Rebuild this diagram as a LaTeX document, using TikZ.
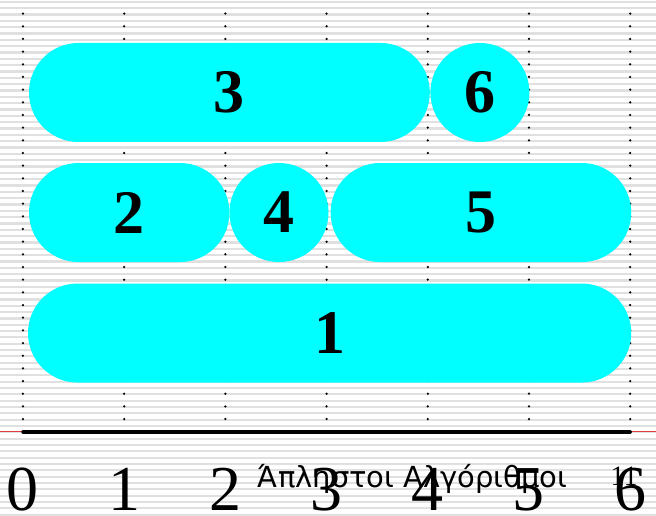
\documentclass[tikz,border=0pt]{standalone}
\usepackage{fontspec}
\setmainfont{Liberation Serif}
\newfontfamily\greekfont{DejaVu Sans}
\usetikzlibrary{shapes.misc}
\definecolor{jobcyan}{RGB}{0,255,255}
\definecolor{stripegray}{RGB}{224,224,224}
\definecolor{axisred}{RGB}{225,60,60}
\tikzset{
  job/.style={rounded rectangle, fill=jobcyan, inner sep=0pt, minimum height=99pt,
    font=\fontsize{62}{62}\selectfont\bfseries},
  jobdot/.style={circle, fill=jobcyan, inner sep=0pt, minimum size=99pt,
    font=\fontsize{62}{62}\selectfont\bfseries},
  tick/.style={anchor=base, inner sep=0pt, font=\fontsize{64}{64}\selectfont},
  stripe/.style={stripegray, line width=2.2pt}
}
\begin{document}
\begin{tikzpicture}[x = 101.2pt, y = 101.2pt]
  \useasboundingbox (-0.227,-0.82) rectangle (6.255,4.269);
  % background
  \foreach \k in {0,...,81}
    \draw[stripe] (-0.227,4.25-\k*0.06255) -- ++(6.482,0);
  \foreach \i in {0,...,6}
    \foreach \k in {0,...,32}
      \fill (\i,0.128+\k*0.1252) circle (1.25pt);
  % jobs
  \node[job, minimum width=400.8pt] (j3) at (2.04,3.355) {3};
  \node[jobdot] (j6) at (4.515,3.355) {6};
  \node[job, minimum width=200.4pt] (j2) at (1.05,2.169) {2};
  \node[jobdot] (j4) at (2.53,2.169) {4};
  \node[job, minimum width=300.6pt] (j5) at (4.525,2.169) {5};
  \node[job, minimum width=603.2pt] (j1) at (3.03,0.978) {1};
  % axis
  \draw[axisred, line width=.8pt] (-0.227,0.005) -- (6.255,0.005);
  \coordinate (o) at (0,0);
  \coordinate (e) at (6,0);
  \draw[line width=3.4pt, line cap=round] (o) -- (e);
  \foreach \i in {0,...,6}
    \node[tick] (t\i) at (\i,-0.775) {\i};
  \node[anchor=base west, inner sep=0pt, font=\greekfont\fontsize{29}{29}\selectfont] (title) at (2.32,-0.545) {Άπληστοι Αλγόριθμοι};
  \node[anchor=base, inner sep=0pt, font=\fontsize{28}{28}\selectfont] (page) at (5.94,-0.525) {11};
\end{tikzpicture}
\end{document}
